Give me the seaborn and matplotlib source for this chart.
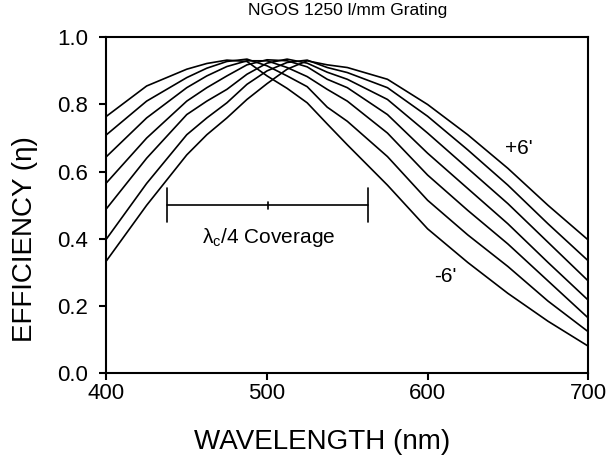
import matplotlib
matplotlib.use("Agg")
import matplotlib.pyplot as plt
import seaborn as sns
import pandas as pd

# wavelengths (nm) and efficiency, one list per tilt
wavelength = [400, 425, 450, 462.5, 475, 487.5, 500, 512.5, 525, 537.5, 550, 575, 600, 625, 650, 675, 700]
eff_m6 = [0.765, 0.855, 0.905, 0.922, 0.932, 0.928, 0.885, 0.848, 0.805, 0.742, 0.680, 0.560, 0.430, 0.330, 0.238, 0.155, 0.081]
eff_m4 = [0.710, 0.810, 0.880, 0.908, 0.928, 0.935, 0.915, 0.885, 0.853, 0.792, 0.750, 0.645, 0.515, 0.412, 0.318, 0.215, 0.124]
eff_m2 = [0.645, 0.760, 0.850, 0.885, 0.913, 0.930, 0.930, 0.910, 0.883, 0.845, 0.810, 0.715, 0.590, 0.485, 0.385, 0.275, 0.165]
eff_0 = [0.567, 0.700, 0.810, 0.850, 0.885, 0.918, 0.933, 0.930, 0.912, 0.875, 0.850, 0.770, 0.655, 0.550, 0.445, 0.330, 0.218]
eff_p2 = [0.490, 0.640, 0.770, 0.810, 0.845, 0.890, 0.923, 0.935, 0.923, 0.896, 0.875, 0.815, 0.715, 0.610, 0.505, 0.390, 0.275]
eff_p4 = [0.400, 0.565, 0.710, 0.760, 0.805, 0.860, 0.900, 0.925, 0.932, 0.910, 0.895, 0.850, 0.765, 0.665, 0.560, 0.445, 0.335]
eff_p6 = [0.335, 0.500, 0.650, 0.710, 0.760, 0.815, 0.862, 0.905, 0.930, 0.918, 0.910, 0.875, 0.800, 0.710, 0.610, 0.500, 0.397]
tilts = ["-6'", "-4'", "-2'", "0'", "+2'", "+4'", "+6'"]

series = [eff_m6, eff_m4, eff_m2, eff_0, eff_p2, eff_p4, eff_p6]
rows = []
for t, vals in zip(tilts, series):
    for w, v in zip(wavelength, vals):
        rows.append({"wavelength": w, "efficiency": v, "tilt": t})
df = pd.DataFrame(rows)

sns.set_style("ticks")
plt.rcParams["font.family"] = ["Liberation Sans", "DejaVu Sans"]
plt.rcParams["text.color"] = "black"
plt.rcParams["axes.labelcolor"] = "black"
plt.rcParams["xtick.color"] = "black"
plt.rcParams["ytick.color"] = "black"

fig = plt.figure(figsize=(6.12, 4.70), dpi=100)
ax = fig.add_axes([0.174, 0.2057, 0.787, 0.715])

sns.lineplot(data=df, x="wavelength", y="efficiency", hue="tilt",
             palette=["black"] * len(tilts), linewidth=1.2, legend=False, ax=ax)

# lambda_c / 4 coverage bar
ax.plot([438, 563], [0.5, 0.5], color="black", lw=1.2)
ax.plot([438, 438], [0.45, 0.55], color="black", lw=1.2)
ax.plot([563, 563], [0.45, 0.55], color="black", lw=1.2)
ax.plot([500.5, 500.5], [0.49, 0.51], color="black", lw=1.2)
ax.text(501, 0.405, "λ$_\\mathregular{c}$/4 Coverage", ha="center", va="center", fontsize=15)

ax.text(657, 0.67, "+6'", ha="center", va="center", fontsize=15)
ax.text(611, 0.287, "-6'", ha="center", va="center", fontsize=15)

ax.set_xlim(400, 700)
ax.set_ylim(0, 1.0)
ax.set_xticks([400, 500, 600, 700])
ax.set_yticks([0.0, 0.2, 0.4, 0.6, 0.8, 1.0])
ax.set_yticklabels(["0.0", "0.2", "0.4", "0.6", "0.8", "1.0"])
ax.tick_params(labelsize=16, length=5, width=1.5)
ax.tick_params(axis="y", pad=8)
ax.tick_params(axis="x", pad=2)
for s in ax.spines.values():
    s.set_linewidth(1.5)
    s.set_color("black")

ax.set_xlabel("WAVELENGTH (nm)", fontsize=20)
ax.set_ylabel("EFFICIENCY (η)", fontsize=20)
ax.xaxis.set_label_coords(0.448, -0.165)
ax.yaxis.set_label_coords(-0.143, 0.40)
ax.set_title("NGOS 1250 l/mm Grating", fontsize=12.5, pad=16)

fig.savefig("out.png", dpi=100)
